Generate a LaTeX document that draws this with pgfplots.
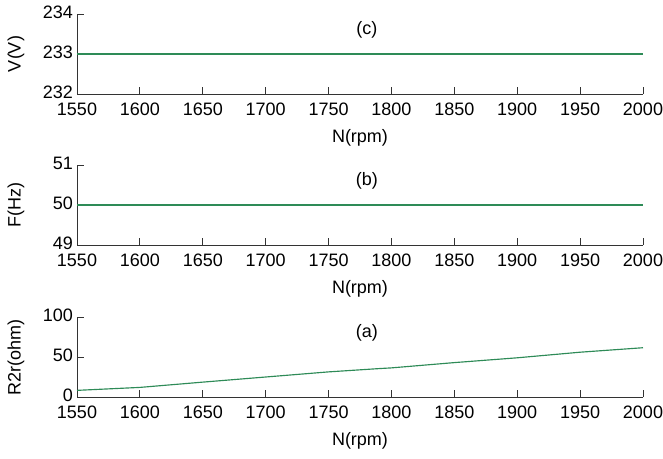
\documentclass[border=0pt]{standalone}
\usepackage{pgfplots}
\pgfplotsset{compat=1.18}
\usepackage{fontspec}
\setmainfont{Liberation Sans}
\definecolor{lgreen}{RGB}{46,139,87}
\pgfplotsset{
  myax/.style={
    scale only axis,
    width=566bp, height=80bp,
    xmin=1550, xmax=2000,
    xtick={1550,1600,...,2000},
    axis x line*=bottom, axis y line*=left,
    axis line style={-, black!80, line width=0.8bp},
    tick style={black!80, line width=0.8bp},
    tick align=inside,
    major tick length=7bp,
    font=\fontsize{18bp}{21bp}\selectfont,
    /pgf/number format/assume math mode=true,
    /pgf/number format/1000 sep={},
    xticklabel style={inner sep=0pt, yshift=-8.5bp},
    yticklabel style={inner sep=0pt, xshift=-4bp, yshift=2bp},
    xlabel={N(rpm)},
    xlabel style={at={(axis description cs:0.5,0)}, anchor=center, yshift=-44bp},
    ylabel style={at={(axis description cs:-0.108,0.5)}, anchor=center},
    clip=false,
  },
}
\begin{document}
\begin{tikzpicture}
\path[use as bounding box] (0,0) rectangle (663bp,-459bp);
% (c)
\begin{axis}[myax, at={(77bp,-94bp)}, anchor=south west,
  ymin=232, ymax=234, ytick={232,233,234}, ylabel={V(V)}]
\addplot[lgreen, line width=1.15bp] coordinates {(1550,233) (2000,233)};
\node at (rel axis cs:0.512,0.8) {(c)};
\end{axis}
% (b)
\begin{axis}[myax, at={(77bp,-245bp)}, anchor=south west,
  ymin=49, ymax=51, ytick={49,50,51}, ylabel={F(Hz)}]
\addplot[lgreen, line width=1.15bp] coordinates {(1550,50) (2000,50)};
\node at (rel axis cs:0.512,0.8) {(b)};
\end{axis}
% (a)
\begin{axis}[myax, at={(77bp,-397bp)}, anchor=south west,
  ymin=0, ymax=100, ytick={0,50,100}, ylabel={R2r(ohm)}]
\addplot[lgreen, line width=1.15bp] coordinates {
(1550,8.3) (1600,12) (1650,18.6) (1700,25) (1750,31.4) (1790,35.5) (1800,36.4)
(1850,43) (1900,49) (1950,56) (2000,61.6)};
\node at (rel axis cs:0.512,0.8) {(a)};
\end{axis}
\end{tikzpicture}
\end{document}
